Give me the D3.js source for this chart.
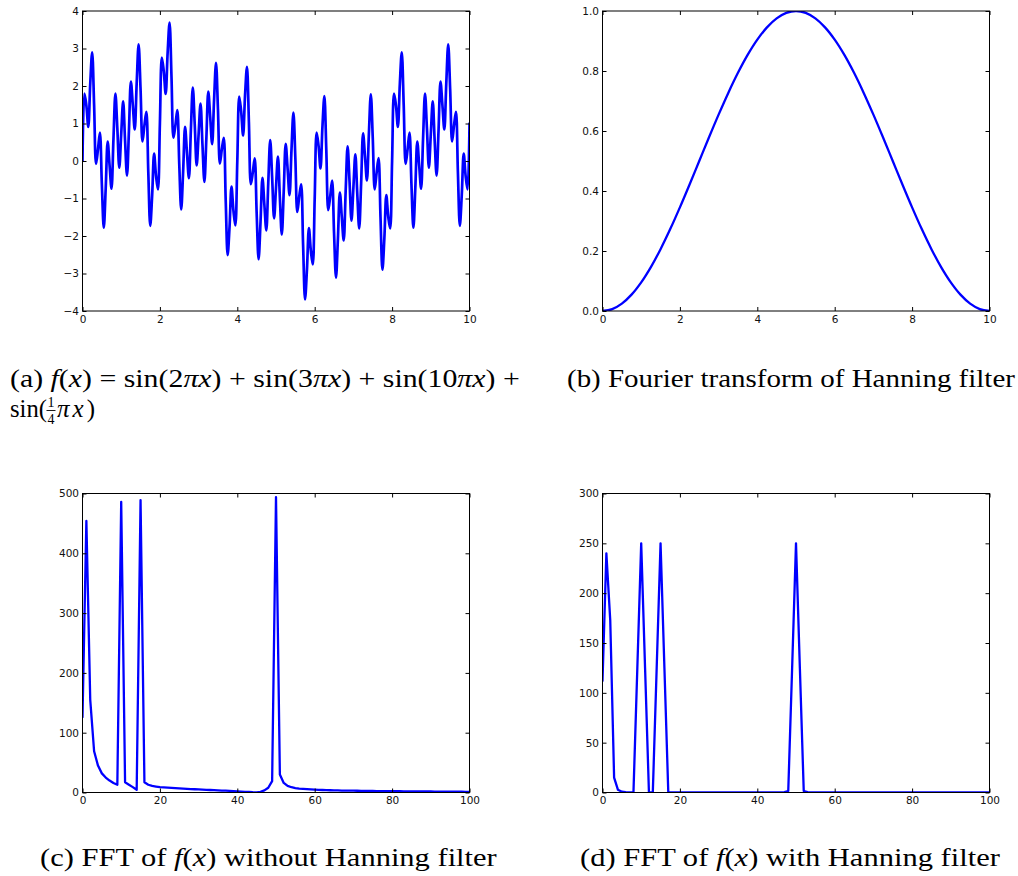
<!DOCTYPE html>
<html><head><meta charset="utf-8">
<script src="https://cdn.jsdelivr.net/npm/d3@7/dist/d3.min.js"></script>
<style>body{margin:0;background:#fff}svg{display:block}</style>
</head><body>
<svg id="fig" width="1018" height="876"></svg>
<script>
// ---------- data ----------
// (a) f(x) sampled every 0.05 on [0,10]
const signalStep = 0.05;
const signalY = [
 0.00, 1.80, 1.48, 0.91, 2.06, 2.90, 1.49,-0.08, 0.31, 0.76,
-0.62,-1.78,-0.72, 0.52,-0.12,-0.74, 0.59, 1.80, 0.87,-0.18,
 0.71, 1.59, 0.54,-0.39, 0.81, 2.12, 1.49, 0.84, 2.07, 3.11,
 1.92, 0.52, 0.95, 1.31,-0.29,-1.73,-0.91, 0.20,-0.40,-0.76,
 1.00, 2.76, 2.39, 1.79, 2.89, 3.69, 2.23, 0.62, 0.95, 1.36,
-0.08,-1.29,-0.29, 0.91, 0.21,-0.46, 0.81, 1.96, 0.98,-0.12,
 0.71, 1.53, 0.43,-0.56, 0.59, 1.85, 1.17, 0.45, 1.63, 2.62,
 1.38,-0.07, 0.31, 0.62,-1.03,-2.51,-1.75,-0.68,-1.32,-1.72,
 0.00, 1.72, 1.32, 0.68, 1.75, 2.51, 1.03,-0.62,-0.31, 0.07,
-1.38,-2.62,-1.63,-0.45,-1.17,-1.85,-0.59, 0.56,-0.43,-1.53,
-0.71, 0.12,-0.98,-1.96,-0.81, 0.46,-0.21,-0.91, 0.29, 1.29,
 0.08,-1.36,-0.95,-0.62,-2.23,-3.69,-2.89,-1.79,-2.39,-2.76,
-1.00, 0.76, 0.40,-0.20, 0.91, 1.73, 0.29,-1.31,-0.95,-0.52,
-1.92,-3.11,-2.07,-0.84,-1.49,-2.12,-0.81, 0.39,-0.54,-1.59,
-0.71, 0.18,-0.87,-1.80,-0.59, 0.74, 0.12,-0.52, 0.72, 1.78,
 0.62,-0.76,-0.31, 0.08,-1.49,-2.90,-2.06,-0.91,-1.48,-1.80,
 0.00, 1.80, 1.48, 0.91, 2.06, 2.90, 1.49,-0.08, 0.31, 0.76,
-0.62,-1.78,-0.72, 0.52,-0.12,-0.74, 0.59, 1.80, 0.87,-0.18,
 0.71, 1.59, 0.54,-0.39, 0.81, 2.12, 1.49, 0.84, 2.07, 3.11,
 1.92, 0.52, 0.95, 1.31,-0.29,-1.73,-0.91, 0.20,-0.40,-0.76,
 1.00
];
// (b) Hanning curve sampled every 0.25 on [0,10]
const hannStep = 0.25;
const hannY = [
 0, .0062, .0245, .0545, .0955, .1464, .2061, .2730, .3455, .4218,
 .5, .5782, .6545, .7270, .7939, .8536, .9045, .9455, .9755, .9938,
 1, .9938, .9755, .9455, .9045, .8536, .7939, .7270, .6545, .5782,
 .5, .4218, .3455, .2730, .2061, .1464, .0955, .0545, .0245, .0062, 0
];
// (c) |FFT| without Hanning, bins 0..100
const fftPlain = [
 126, 454, 155, 69, 45, 32, 25, 20, 16, 13,
 486, 17, 13, 9, 4.5, 489, 17, 13, 11, 10,
 9, 8.5, 8, 7.6, 7.2, 6.8, 6.4, 6, 5.7, 5.4,
 5.1, 4.8, 4.5, 4.2, 3.9, 3.6, 3.3, 3, 2.7, 2.3,
 2, 1.6, 1.2, 0.8, 0.4, 0.3, 1.2, 3.5, 8, 19,
 494, 30, 16, 11, 8.8, 7.5, 6.6, 6, 5.5, 5.1,
 4.8, 4.5, 4.2, 4, 3.8, 3.6, 3.4, 3.3, 3.2, 3.1,
 3, 2.9, 2.8, 2.7, 2.6, 2.5, 2.45, 2.4, 2.3, 2.25,
 2.2, 2.1, 2.05, 2, 1.95, 1.9, 1.85, 1.8, 1.75, 1.7,
 1.65, 1.6, 1.55, 1.5, 1.45, 1.4, 1.35, 1.3, 1.25, 1.2, 1.15
];
// (d) |FFT| with Hanning, bins 0..100
const fftHann = [
 112, 240, 173, 15, 2.7, 0.8, 0.4, 0.2, 0.1, 125,
 250, 125, 0.1, 0.1, 125, 250, 125, 0.1, 0.05, 0.05,
 0.05, 0.05, 0.05, 0.05, 0.05, 0.05, 0.05, 0.05, 0.05, 0.05,
 0.05, 0.05, 0.05, 0.05, 0.05, 0.05, 0.05, 0.05, 0.05, 0.05,
 0.05, 0.05, 0.05, 0.05, 0.05, 0.05, 0.1, 0.3, 1.5, 125,
 250, 125, 1.5, 0.3, 0.1, 0.05, 0.05, 0.05, 0.05, 0.05,
 0.05, 0.05, 0.05, 0.05, 0.05, 0.05, 0.05, 0.05, 0.05, 0.05,
 0.05, 0.05, 0.05, 0.05, 0.05, 0.05, 0.05, 0.05, 0.05, 0.05,
 0.05, 0.05, 0.05, 0.05, 0.05, 0.05, 0.05, 0.05, 0.05, 0.05,
 0.05, 0.05, 0.05, 0.05, 0.05, 0.05, 0.05, 0.05, 0.05, 0.05, 0.05
];
// tick labels
const xTicks10  = [0, 2, 4, 6, 8, 10];
const xTicks100 = [0, 20, 40, 60, 80, 100];
const yTicksA = [-4, -3, -2, -1, 0, 1, 2, 3, 4];
const yTicksB = [0, 0.2, 0.4, 0.6, 0.8, 1.0];
const yTicksC = [0, 100, 200, 300, 400, 500];
const yTicksD = [0, 50, 100, 150, 200, 250, 300];

// ---------- drawing ----------
const svg = d3.select("#fig");
const BLUE = "#0000ff";
let clipId = 0;

function panel(box, xDom, yDom, xT, yT, yFmt, pts, curve, lw) {
  const g = svg.append("g").attr("transform", `translate(${box.x},${box.y})`);
  const x = d3.scaleLinear().domain(xDom).range([0, box.w]);
  const y = d3.scaleLinear().domain(yDom).range([box.h, 0]);
  const id = "clip" + (clipId++);
  g.append("clipPath").attr("id", id).append("rect")
    .attr("width", box.w).attr("height", box.h);
  g.append("path").datum(pts)
    .attr("clip-path", `url(#${id})`)
    .attr("fill", "none").attr("stroke", BLUE).attr("stroke-width", lw)
    .attr("stroke-linejoin", "round").attr("stroke-linecap", "round")
    .attr("d", d3.line().x(d => x(d[0])).y(d => y(d[1])).curve(curve));
  g.append("rect").attr("width", box.w).attr("height", box.h)
    .attr("fill", "none").attr("stroke", "#000").attr("stroke-width", 1);
  const style = a => {
    a.select(".domain").remove();
    a.selectAll("line").attr("stroke", "#000");
    a.attr("font-family", "DejaVu Sans").attr("font-size", 10.5)
      .selectAll("text").attr("fill", "#111");
  };
  g.append("g").attr("transform", `translate(0,${box.h})`)
    .call(d3.axisBottom(x).tickValues(xT).tickSize(-4).tickPadding(4.5).tickFormat(d3.format("d"))).call(style);
  g.append("g")
    .call(d3.axisTop(x).tickValues(xT).tickSize(-4).tickFormat(() => "")).call(style);
  g.append("g")
    .call(d3.axisLeft(y).tickValues(yT).tickSize(-4).tickPadding(3.5).tickFormat(yFmt)).call(style);
  g.append("g").attr("transform", `translate(${box.w},0)`)
    .call(d3.axisRight(y).tickValues(yT).tickSize(-4).tickFormat(() => "")).call(style);
}

const W = 387, H = 300;
panel({x: 82.5, y: 11, w: W, h: H}, [0, 10], [-4, 4], xTicks10, yTicksA, d3.format("d"),
      signalY.map((v, i) => [i * signalStep, v]), d3.curveCatmullRom.alpha(0.5), 2.7);
panel({x: 602.5, y: 11, w: W, h: H}, [0, 10], [0, 1], xTicks10, yTicksB, d3.format(".1f"),
      hannY.map((v, i) => [i * hannStep, v]), d3.curveCatmullRom.alpha(0.5), 2.3);
panel({x: 82.5, y: 493.5, w: W, h: 299}, [0, 100], [0, 500], xTicks100, yTicksC, d3.format("d"),
      fftPlain.map((v, i) => [i, v]), d3.curveLinear, 2.3);
panel({x: 602.5, y: 493.5, w: W, h: 299}, [0, 100], [0, 300], xTicks100, yTicksD, d3.format("d"),
      fftHann.map((v, i) => [i, v]), d3.curveLinear, 2.3);

// ---------- captions ----------
const SERIF = "Liberation Serif";
function caption(parts, x0, base, targetW, size, spacing) {
  const g = svg.append("g");
  const t = g.append("text").attr("x", 0).attr("y", 0)
    .attr("font-family", SERIF).attr("font-size", size).attr("fill", "#000");
  if (spacing) t.attr("letter-spacing", spacing);
  parts.forEach(([s, it]) => t.append("tspan").text(s).attr("font-style", it ? "italic" : "normal"));
  const w = t.node().getComputedTextLength();
  const sx = targetW ? targetW / w : 1;
  g.attr("transform", `translate(${x0},${base}) scale(${sx},1)`);
  return g;
}
const N = false, I = true;
caption([["(a) ", N], ["f", I], ["(", N], ["x", I], [") = sin(2", N], ["π", I], ["x", I],
         [") + sin(3", N], ["π", I], ["x", I], [") + sin(10", N], ["π", I], ["x", I], [") +", N]],
        10, 387, 510, 25);
caption([["sin(", N]], 10, 416.5, 37, 25);
svg.append("text").attr("x", 51).attr("y", 406.5).attr("text-anchor", "middle")
  .attr("font-family", SERIF).attr("font-size", 14).text("1");
svg.append("line").attr("x1", 46.5).attr("x2", 55.5).attr("y1", 410.5).attr("y2", 410.5)
  .attr("stroke", "#000").attr("stroke-width", 0.9);
svg.append("text").attr("x", 51).attr("y", 424).attr("text-anchor", "middle")
  .attr("font-family", SERIF).attr("font-size", 14).text("4");
caption([["π", I], ["x", I], [")", N]], 57, 416.5, null, 25, 3);

caption([["(b) Fourier transform of Hanning filter", N]], 567, 387, 448, 25);
caption([["(c) FFT of ", N], ["f", I], ["(", N], ["x", I], [") without Hanning filter", N]], 40, 866, 457, 25);
caption([["(d) FFT of ", N], ["f", I], ["(", N], ["x", I], [") with Hanning filter", N]], 580, 866, 420, 25);
</script>
</body></html>
